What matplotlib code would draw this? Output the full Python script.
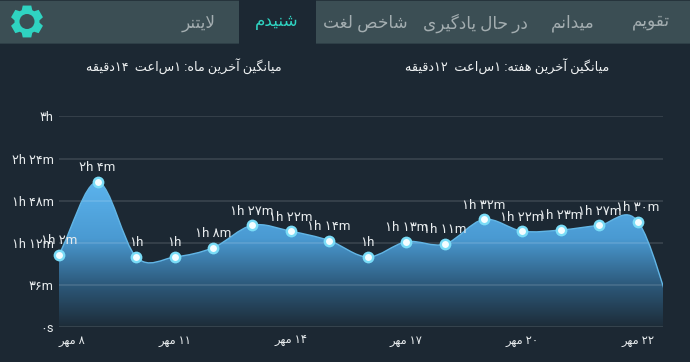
import re
import numpy as np
import matplotlib
matplotlib.use('Agg')
import matplotlib.pyplot as plt
from matplotlib.colors import LinearSegmentedColormap
from matplotlib.patches import PathPatch, Rectangle, Circle
from matplotlib.path import Path

plt.rcParams['font.family'] = ['Roboto', 'DejaVu Sans']

# data
days = [8, 9, 10, 11, 12, 13, 14, 15, 16, 17, 18, 19, 20, 21, 22, 23, 24]
minutes = [62, 124, 60, 60, 68, 87, 82, 74, 60, 73, 71, 92, 82, 83, 87, 90, 0]
tick_days = [8, 11, 14, 17, 20, 23]
tick_labels = ['۸ مهر', '۱۱ مهر', '۱۴ مهر', '۱۷ مهر', '۲۰ مهر', '۲۲ مهر']
y_ticks = [0, 36, 72, 108, 144, 180]
y_labels = ['۰s', '۳۶m', '۱h ۱۲m', '۱h ۴۸m', '۲h ۲۴m', '۳h']
tabs = ['تقویم', 'میدانم', 'در حال یادگیری', 'شاخص لغت', 'شنیدم', 'لایتنر']
tab_x = [651, 573, 475, 365, 277, 199]
active_tab = 'شنیدم'
avg_week = 'میانگین آخرین هفته: ۱ساعت  ۱۲دقیقه'
avg_month = 'میانگین آخرین ماه: ۱ساعت  ۱۴دقیقه'

BG = '#1c2833'
HEADER = '#3b4e54'
TEAL = '#2fd3c1'

# matplotlib does no arabic shaping, so pick presentation forms by hand
# letter: isolated, final, initial, medial
FORMS = {
    'ا': (0xFE8D, 0xFE8E), 'آ': (0xFE81, 0xFE82), 'د': (0xFEA9, 0xFEAA),
    'ر': (0xFEAD, 0xFEAE), 'و': (0xFEED, 0xFEEE),
    'ت': (0xFE95, 0xFE96, 0xFE97, 0xFE98), 'ح': (0xFEA1, 0xFEA2, 0xFEA3, 0xFEA4),
    'خ': (0xFEA5, 0xFEA6, 0xFEA7, 0xFEA8), 'ش': (0xFEB5, 0xFEB6, 0xFEB7, 0xFEB8),
    'ص': (0xFEB9, 0xFEBA, 0xFEBB, 0xFEBC), 'ع': (0xFEC9, 0xFECA, 0xFECB, 0xFECC),
    'غ': (0xFECD, 0xFECE, 0xFECF, 0xFED0), 'ف': (0xFED1, 0xFED2, 0xFED3, 0xFED4),
    'ق': (0xFED5, 0xFED6, 0xFED7, 0xFED8), 'ل': (0xFEDD, 0xFEDE, 0xFEDF, 0xFEE0),
    'م': (0xFEE1, 0xFEE2, 0xFEE3, 0xFEE4), 'ن': (0xFEE5, 0xFEE6, 0xFEE7, 0xFEE8),
    'ه': (0xFEE9, 0xFEEA, 0xFEEB, 0xFEEC), 'ی': (0xFBFC, 0xFBFD, 0xFBFE, 0xFBFF),
    'گ': (0xFB92, 0xFB93, 0xFB94, 0xFB95),
}


def fa(text):
    out = ''
    i = 0
    while i < len(text):
        c = text[i]
        if c not in FORMS:
            out += c
            i += 1
            continue
        prev = text[i - 1] if i > 0 else ''
        joined = prev in FORMS and len(FORMS[prev]) == 4
        if c == 'ل' and text[i + 1:i + 2] == 'ا':
            out += chr(0xFEFC if joined else 0xFEFB)
            i += 2
            continue
        nxt = text[i + 1] if i + 1 < len(text) else ''
        f = FORMS[c]
        if len(f) == 4 and nxt in FORMS:
            out += chr(f[3] if joined else f[2])
        else:
            out += chr(f[1] if joined else f[0])
        i += 1
    # visual order, digit runs stay left to right
    return re.sub('[۰-۹]+', lambda m: m.group()[::-1], out[::-1])


def point_label(m):
    digits = str.maketrans('0123456789', '۰۱۲۳۴۵۶۷۸۹')
    h, rest = divmod(m, 60)
    s = '%dh' % h
    if rest:
        s += ' %dm' % rest
    return s.translate(digits)


def curve_path(x, y):
    # catmull-rom curve as bezier segments
    x = np.array(x, dtype=float)
    y = np.array(y, dtype=float)
    slope = np.gradient(y, x)
    verts = [(x[0], y[0])]
    codes = [Path.MOVETO]
    for i in range(len(x) - 1):
        d = (x[i + 1] - x[i]) / 3
        verts += [(x[i] + d, y[i] + slope[i] * d),
                  (x[i + 1] - d, y[i + 1] - slope[i + 1] * d),
                  (x[i + 1], y[i + 1])]
        codes += [Path.CURVE4] * 3
    return verts, codes


W, H = 690, 362
fig = plt.figure(figsize=(W / 100, H / 100), dpi=100, facecolor=BG)

# header, in pixel coordinates
top = fig.add_axes([0, 0, 1, 1])
top.set_xlim(0, W)
top.set_ylim(H, 0)
top.axis('off')
top.add_patch(Rectangle((0, 0), W, 43, color=HEADER, lw=0))
top.add_patch(Rectangle((0, 0), W, 1, color='#26343c', lw=0))
top.add_patch(Rectangle((0, 42.5), W, 1.5, color='#2e3f47', lw=0))
top.add_patch(Rectangle((239, 0), 77, 44, color=BG, lw=0))

for name, x in zip(tabs, tab_x):
    top.text(x, 23, fa(name), ha='center', va='center', fontsize=12.2,
             color=TEAL if name == active_tab else '#a3adb0')

top.text(507, 66, fa(avg_week), ha='center', va='center', fontsize=9.3, color='#eef1f2')
top.text(184, 66, fa(avg_month), ha='center', va='center', fontsize=9.2, color='#eef1f2')

# gear icon
ang = np.radians(np.arange(0, 360, 60) + 90)
gear = []
for a in ang:
    for da, r in [(-25, 12.5), (-15, 16.5), (15, 16.5), (25, 12.5)]:
        t = a + np.radians(da)
        gear.append((27 + r * np.cos(t), 21.5 + r * np.sin(t)))
top.add_patch(plt.Polygon(gear, closed=True, color=TEAL, lw=0))
top.add_patch(Circle((27, 21.5), 7.5, color=HEADER, lw=0))

# chart
x0, x1, y_top, y_bot = 59, 663, 116.3, 327.3
ax = fig.add_axes([x0 / W, 1 - y_bot / H, (x1 - x0) / W, (y_bot - y_top) / H])
ax.patch.set_alpha(0)
xmax = 8 + (x1 - x0) / 38.6
ax.set_xlim(8, xmax)
ax.set_ylim(0, 180)
for s in ax.spines.values():
    s.set_visible(False)

verts, codes = curve_path(days, minutes)
area = Path(verts + [(days[-1], 0), (days[0], 0), (days[0], minutes[0])],
            codes + [Path.LINETO, Path.LINETO, Path.LINETO])
clip = PathPatch(area, fc='none', ec='none', transform=ax.transData)
ax.add_patch(clip)

cmap = LinearSegmentedColormap.from_list('fill', [
    (0.0, '#1d2c38'), (0.29, '#2d5a7c'), (0.6, '#4a9ad2'), (1.0, '#5cb4ee')])
img = ax.imshow(np.linspace(1, 0, 256).reshape(-1, 1), cmap=cmap, aspect='auto',
                extent=[8, xmax, 0, 126], zorder=1, vmin=0, vmax=1)
img.set_clip_path(clip)
ax.set_xlim(8, xmax)
ax.set_ylim(0, 180)

for v in y_ticks:
    ax.axhline(v, color='#ffffff', alpha=0.13, lw=1.2, zorder=2)

ax.add_patch(PathPatch(Path(verts, codes), fc='none', ec='#62b6e6', lw=1, zorder=3))

for d, m in zip(days, minutes):
    if d > xmax:
        continue
    ax.plot(d, m, 'o', ms=8.5, mfc='#7adcf7', mec='none', zorder=4, clip_on=False)
    ax.plot(d, m, 'o', ms=5, mfc='#f4fdff', mec='none', zorder=5, clip_on=False)
    ax.annotate(point_label(m), (d, m), xytext=(0, 5.5), textcoords='offset points',
                ha='center', va='bottom', fontsize=9.5, color='#e8ecee', zorder=6,
                annotation_clip=False)

ax.set_yticks(y_ticks)
ax.set_yticklabels(y_labels, fontsize=9.2, color='#e8ecee')
ax.set_xticks(tick_days)
ax.set_xticklabels([fa(t) for t in tick_labels], fontsize=8.3, color='#e8ecee')
ax.get_xticklabels()[0].set_ha('left')
ax.tick_params(length=0, pad=5)
ax.tick_params(axis='y', pad=4)

plt.savefig('out.png', dpi=100, facecolor=BG)
